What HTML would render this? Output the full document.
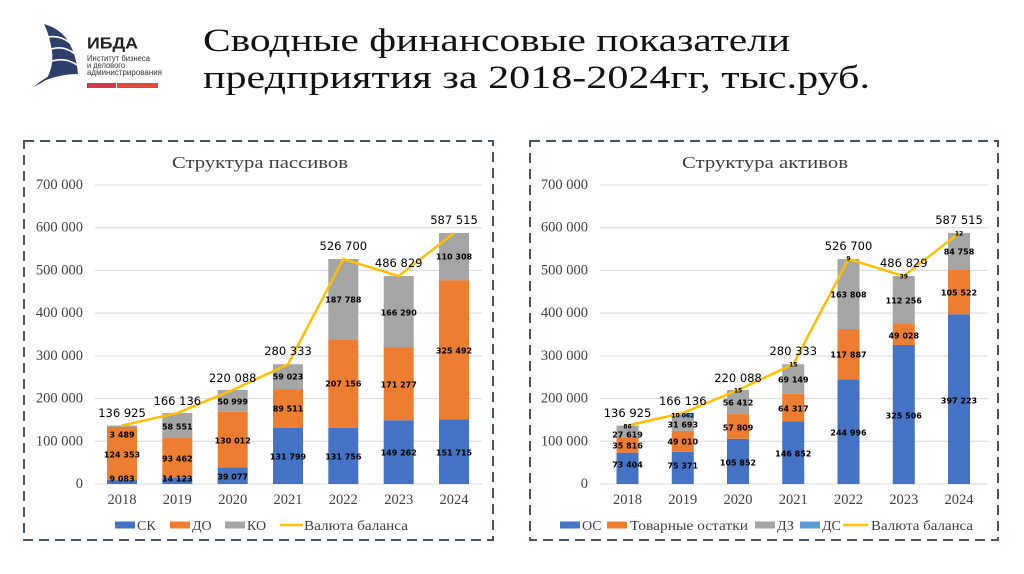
<!DOCTYPE html>
<html><head><meta charset="utf-8"><style>
html,body{margin:0;padding:0;background:#fff;}
svg{display:block;}
.ax{font-family:"Liberation Serif","DejaVu Serif",serif;font-size:14.5px;fill:#404040;}
.dl{font-family:"DejaVu Sans","Liberation Sans",sans-serif;font-size:8px;font-weight:bold;fill:#000;}
.tl{font-family:"DejaVu Sans","Liberation Sans",sans-serif;font-size:6px;font-weight:bold;fill:#000;}
.tot{font-family:"DejaVu Sans","Liberation Sans",sans-serif;font-size:11.5px;fill:#000;}
.lg{font-family:"Liberation Serif","DejaVu Serif",serif;font-size:14px;fill:#404040;}
</style></head><body>
<svg width="1024" height="574" viewBox="0 0 1024 574" xmlns="http://www.w3.org/2000/svg">
<rect width="1024" height="574" fill="#fff"/>
<!-- Logo -->
<g>
<path d="M44 24 Q58 28 66 38 Q76 52 78 74 Q62 74 46 80 Q54 66 52 52 Q50 36 44 24 Z" fill="#2E3F6B"/>
<path d="M46 80 Q40 84 33 87 Q42 80 52 74 Z" fill="#2E3F6B"/>
<path d="M48 37 Q60 35 70 43" stroke="#fff" stroke-width="1.6" fill="none"/>
<path d="M51 49 Q64 45 75 54" stroke="#fff" stroke-width="1.6" fill="none"/>
<path d="M52 61 Q66 57 77 65" stroke="#fff" stroke-width="1.6" fill="none"/>
<text x="87" y="48.5" font-family="Liberation Sans, sans-serif" font-weight="bold" font-size="16" fill="#222" textLength="51" lengthAdjust="spacingAndGlyphs">ИБДА</text>
<text x="87" y="61" font-family="Liberation Sans, sans-serif" font-size="8" fill="#333" textLength="63" lengthAdjust="spacingAndGlyphs">Институт бизнеса</text>
<text x="87" y="68" font-family="Liberation Sans, sans-serif" font-size="8" fill="#333" textLength="38" lengthAdjust="spacingAndGlyphs">и делового</text>
<text x="87" y="75" font-family="Liberation Sans, sans-serif" font-size="8" fill="#333" textLength="75" lengthAdjust="spacingAndGlyphs">администрирования</text>
<rect x="87" y="83" width="29" height="5" fill="#D4374A"/>
<rect x="117" y="83" width="41" height="5" fill="#E04B3A"/>
</g>
<!-- Title -->
<text x="203" y="51" font-family="Liberation Serif, serif" font-size="33" fill="#111" textLength="587" lengthAdjust="spacingAndGlyphs">Сводные финансовые показатели</text>
<text x="203" y="88" font-family="Liberation Serif, serif" font-size="33" fill="#111" textLength="667" lengthAdjust="spacingAndGlyphs">предприятия за 2018-2024гг, тыс.руб.</text>

<!-- Frames -->
<rect x="24" y="141" width="469" height="399" fill="none" stroke="#44546A" stroke-width="2" stroke-dasharray="10 6"/>
<rect x="530" y="141" width="468" height="399" fill="none" stroke="#44546A" stroke-width="2" stroke-dasharray="10 6"/>

<!-- LEFT CHART -->
<text x="172" y="168" font-family="Liberation Serif, serif" font-size="17" fill="#404040" textLength="176" lengthAdjust="spacingAndGlyphs">Структура пассивов</text>
<g stroke="#D9D9D9" stroke-width="1">
<line x1="95" y1="185" x2="482" y2="185"/><line x1="95" y1="227.7" x2="482" y2="227.7"/>
<line x1="95" y1="270.4" x2="482" y2="270.4"/><line x1="95" y1="313.1" x2="482" y2="313.1"/>
<line x1="95" y1="355.9" x2="482" y2="355.9"/><line x1="95" y1="398.6" x2="482" y2="398.6"/>
<line x1="95" y1="441.3" x2="482" y2="441.3"/><line x1="95" y1="484" x2="482" y2="484"/>
</g>
<g class="ax" text-anchor="end" dominant-baseline="central">
<text x="83" y="185">700 000</text><text x="83" y="227.7">600 000</text><text x="83" y="270.4">500 000</text>
<text x="83" y="313.1">400 000</text><text x="83" y="355.9">300 000</text><text x="83" y="398.6">200 000</text>
<text x="83" y="441.3">100 000</text><text x="83" y="484">0</text>
</g>
<g>
<rect x="107" y="480.12" width="30" height="3.88" fill="#4472C4"/>
<rect x="107" y="427.0" width="30" height="53.12" fill="#ED7D31"/>
<rect x="107" y="425.51" width="30" height="1.49" fill="#A5A5A5"/>

<rect x="162.3" y="477.97" width="30" height="6.03" fill="#4472C4"/>
<rect x="162.3" y="438.05" width="30" height="39.92" fill="#ED7D31"/>
<rect x="162.3" y="413.04" width="30" height="25.01" fill="#A5A5A5"/>

<rect x="217.7" y="467.31" width="30" height="16.69" fill="#4472C4"/>
<rect x="217.7" y="411.77" width="30" height="55.54" fill="#ED7D31"/>
<rect x="217.7" y="389.99" width="30" height="21.78" fill="#A5A5A5"/>

<rect x="273" y="427.70" width="30" height="56.30" fill="#4472C4"/>
<rect x="273" y="389.47" width="30" height="38.23" fill="#ED7D31"/>
<rect x="273" y="364.26" width="30" height="25.21" fill="#A5A5A5"/>

<rect x="328.3" y="427.72" width="30" height="56.28" fill="#4472C4"/>
<rect x="328.3" y="339.24" width="30" height="88.48" fill="#ED7D31"/>
<rect x="328.3" y="259.02" width="30" height="80.22" fill="#A5A5A5"/>

<rect x="383.7" y="420.24" width="30" height="63.76" fill="#4472C4"/>
<rect x="383.7" y="347.08" width="30" height="73.16" fill="#ED7D31"/>
<rect x="383.7" y="276.06" width="30" height="71.02" fill="#A5A5A5"/>

<rect x="439" y="419.20" width="30" height="64.80" fill="#4472C4"/>
<rect x="439" y="280.16" width="30" height="139.04" fill="#ED7D31"/>
<rect x="439" y="233.05" width="30" height="47.11" fill="#A5A5A5"/>
</g>
<polyline points="122,425.51 177.3,413.04 232.7,389.99 288,364.26 343.3,259.02 398.7,276.06 454,233.05" fill="none" stroke="#FFC000" stroke-width="2.5" stroke-linejoin="round"/>
<g class="dl" text-anchor="middle" dominant-baseline="central">
<text x="122" y="479">9 083</text><text x="122" y="455">124 353</text><text x="122" y="435">3 489</text>
<text x="177.3" y="479">14 123</text><text x="177.3" y="459">93 462</text><text x="177.3" y="427">58 551</text>
<text x="232.7" y="477">39 077</text><text x="232.7" y="441">130 012</text><text x="232.7" y="402">50 999</text>
<text x="288" y="457">131 799</text><text x="288" y="409">89 511</text><text x="288" y="377">59 023</text>
<text x="343.3" y="457">131 756</text><text x="343.3" y="384">207 156</text><text x="343.3" y="300">187 788</text>
<text x="398.7" y="453">149 262</text><text x="398.7" y="385">171 277</text><text x="398.7" y="313">166 290</text>
<text x="454" y="453">151 715</text><text x="454" y="351">325 492</text><text x="454" y="257">110 308</text>
</g>
<g class="tot" text-anchor="middle" dominant-baseline="central">
<text x="122" y="413">136 925</text><text x="177.3" y="401">166 136</text><text x="232.7" y="378">220 088</text>
<text x="288" y="351">280 333</text><text x="343.3" y="246">526 700</text><text x="398.7" y="263">486 829</text>
<text x="454" y="220">587 515</text>
</g>
<g class="ax" text-anchor="middle" dominant-baseline="central">
<text x="122" y="500">2018</text><text x="177.3" y="500">2019</text><text x="232.7" y="500">2020</text>
<text x="288" y="500">2021</text><text x="343.3" y="500">2022</text><text x="398.7" y="500">2023</text><text x="454" y="500">2024</text>
</g>
<rect x="115" y="521.5" width="20" height="7" fill="#4472C4"/>
<text class="lg" x="137" y="530">СК</text>
<rect x="170" y="521.5" width="20" height="7" fill="#ED7D31"/>
<text class="lg" x="192" y="530">ДО</text>
<rect x="225" y="521.5" width="20" height="7" fill="#A5A5A5"/>
<text class="lg" x="247" y="530">КО</text>
<line x1="280" y1="525" x2="303" y2="525" stroke="#FFC000" stroke-width="2.5"/>
<text class="lg" x="304" y="530" textLength="104" lengthAdjust="spacingAndGlyphs">Валюта баланса</text>

<!-- RIGHT CHART -->
<text x="682" y="168" font-family="Liberation Serif, serif" font-size="17" fill="#404040" textLength="166" lengthAdjust="spacingAndGlyphs">Структура активов</text>
<g stroke="#D9D9D9" stroke-width="1">
<line x1="600" y1="185" x2="988" y2="185"/><line x1="600" y1="227.7" x2="988" y2="227.7"/>
<line x1="600" y1="270.4" x2="988" y2="270.4"/><line x1="600" y1="313.1" x2="988" y2="313.1"/>
<line x1="600" y1="355.9" x2="988" y2="355.9"/><line x1="600" y1="398.6" x2="988" y2="398.6"/>
<line x1="600" y1="441.3" x2="988" y2="441.3"/><line x1="600" y1="484" x2="988" y2="484"/>
</g>
<g class="ax" text-anchor="end" dominant-baseline="central">
<text x="588" y="185">700 000</text><text x="588" y="227.7">600 000</text><text x="588" y="270.4">500 000</text>
<text x="588" y="313.1">400 000</text><text x="588" y="355.9">300 000</text><text x="588" y="398.6">200 000</text>
<text x="588" y="441.3">100 000</text><text x="588" y="484">0</text>
</g>
<g>
<rect x="616.5" y="452.65" width="22" height="31.35" fill="#4472C4"/>
<rect x="616.5" y="437.35" width="22" height="15.30" fill="#ED7D31"/>
<rect x="616.5" y="425.55" width="22" height="11.80" fill="#A5A5A5"/>

<rect x="671.75" y="451.81" width="22" height="32.19" fill="#4472C4"/>
<rect x="671.75" y="430.87" width="22" height="20.94" fill="#ED7D31"/>
<rect x="671.75" y="417.33" width="22" height="13.54" fill="#A5A5A5"/>
<rect x="671.75" y="413.04" width="22" height="4.29" fill="#5B9BD5"/>

<rect x="727" y="438.79" width="22" height="45.21" fill="#4472C4"/>
<rect x="727" y="414.09" width="22" height="24.70" fill="#ED7D31"/>
<rect x="727" y="390.0" width="22" height="24.09" fill="#A5A5A5"/>

<rect x="782.25" y="421.27" width="22" height="62.73" fill="#4472C4"/>
<rect x="782.25" y="393.80" width="22" height="27.47" fill="#ED7D31"/>
<rect x="782.25" y="364.27" width="22" height="29.53" fill="#A5A5A5"/>

<rect x="837.5" y="379.35" width="22" height="104.65" fill="#4472C4"/>
<rect x="837.5" y="329.0" width="22" height="50.35" fill="#ED7D31"/>
<rect x="837.5" y="259.03" width="22" height="69.97" fill="#A5A5A5"/>

<rect x="892.75" y="344.96" width="22" height="139.04" fill="#4472C4"/>
<rect x="892.75" y="324.02" width="22" height="20.94" fill="#ED7D31"/>
<rect x="892.75" y="276.08" width="22" height="47.94" fill="#A5A5A5"/>

<rect x="948" y="314.33" width="22" height="169.67" fill="#4472C4"/>
<rect x="948" y="269.26" width="22" height="45.07" fill="#ED7D31"/>
<rect x="948" y="233.06" width="22" height="36.20" fill="#A5A5A5"/>
</g>
<polyline points="627.5,425.51 682.75,413.04 738,389.99 793.25,364.26 848.5,259.02 903.75,276.06 959,233.05" fill="none" stroke="#FFC000" stroke-width="2.5" stroke-linejoin="round"/>
<g class="dl" text-anchor="middle" dominant-baseline="central">
<text x="627.5" y="465">73 404</text><text x="627.5" y="446">35 816</text><text x="627.5" y="435">27 619</text>
<text x="682.75" y="466">75 371</text><text x="682.75" y="442">49 010</text><text x="682.75" y="425">31 693</text>
<text x="738" y="463">105 852</text><text x="738" y="428">57 809</text><text x="738" y="403">56 412</text>
<text x="793.25" y="454">146 852</text><text x="793.25" y="409">64 317</text><text x="793.25" y="380">69 149</text>
<text x="848.5" y="433">244 996</text><text x="848.5" y="355">117 887</text><text x="848.5" y="295">163 808</text>
<text x="903.75" y="416">325 506</text><text x="903.75" y="336">49 028</text><text x="903.75" y="301">112 256</text>
<text x="959" y="401">397 223</text><text x="959" y="293">105 522</text><text x="959" y="252">84 758</text>
</g>
<g class="tl" text-anchor="middle" dominant-baseline="central">
<text x="627.5" y="427">86</text><text x="682.75" y="416">10 062</text><text x="738" y="391">15</text>
<text x="793.25" y="365">15</text><text x="848.5" y="259">9</text><text x="903.75" y="277">39</text><text x="959" y="234">12</text>
</g>
<g class="tot" text-anchor="middle" dominant-baseline="central">
<text x="627.5" y="413">136 925</text><text x="682.75" y="401">166 136</text><text x="738" y="378">220 088</text>
<text x="793.25" y="351">280 333</text><text x="848.5" y="246">526 700</text><text x="903.75" y="263">486 829</text>
<text x="959" y="220">587 515</text>
</g>
<g class="ax" text-anchor="middle" dominant-baseline="central">
<text x="627.5" y="500">2018</text><text x="682.75" y="500">2019</text><text x="738" y="500">2020</text>
<text x="793.25" y="500">2021</text><text x="848.5" y="500">2022</text><text x="903.75" y="500">2023</text><text x="959" y="500">2024</text>
</g>
<rect x="560" y="521.5" width="20" height="7" fill="#4472C4"/>
<text class="lg" x="582" y="530">ОС</text>
<rect x="607" y="521.5" width="20" height="7" fill="#ED7D31"/>
<text class="lg" x="630" y="530" textLength="118" lengthAdjust="spacingAndGlyphs">Товарные остатки</text>
<rect x="755" y="521.5" width="20" height="7" fill="#A5A5A5"/>
<text class="lg" x="777" y="530">ДЗ</text>
<rect x="800" y="521.5" width="20" height="7" fill="#5B9BD5"/>
<text class="lg" x="822" y="530">ДС</text>
<line x1="843" y1="525" x2="868" y2="525" stroke="#FFC000" stroke-width="2.5"/>
<text class="lg" x="871" y="530" textLength="102" lengthAdjust="spacingAndGlyphs">Валюта баланса</text>
</svg>
</body></html>
